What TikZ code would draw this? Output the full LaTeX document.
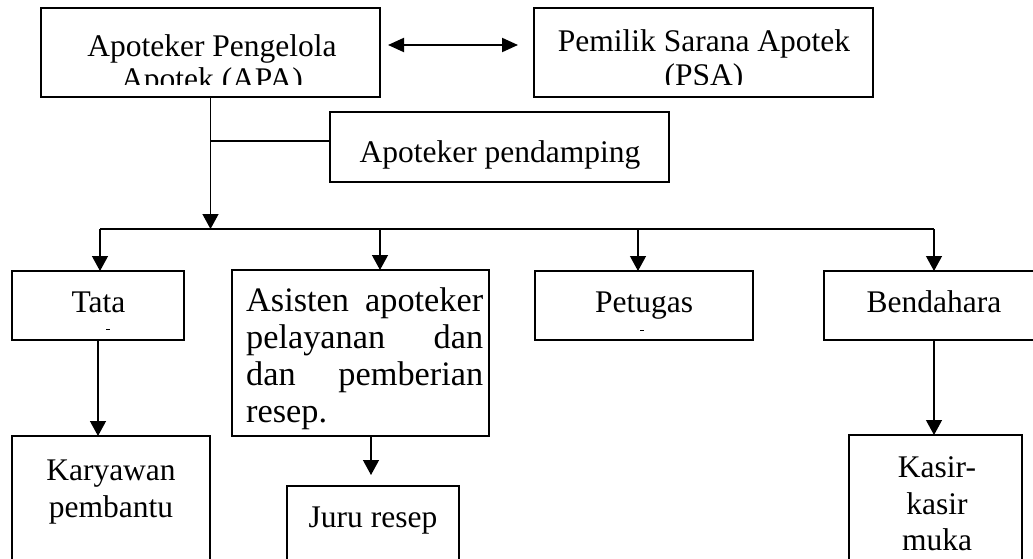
\documentclass[tikz,border=0pt]{standalone}
\usepackage{fontspec}
\setmainfont{Liberation Serif}
\usetikzlibrary{arrows.meta}
\begin{document}
\begin{tikzpicture}[x=1pt,y=-1pt,
  box/.style={draw=black,line width=2.4pt,inner sep=0pt,outer sep=0pt},
  lbl/.style={anchor=base,inner sep=0pt,font=\fontsize{31.5}{37}\selectfont},
  lblw/.style={anchor=base west,inner sep=0pt,font=\fontsize{34.3}{37}\selectfont},
  conn/.style={line width=1.3pt},
  arr/.style={conn,-{Triangle[length=15pt,width=16pt]}},
  darr/.style={line width=2pt,{Triangle[length=16pt,width=14pt]}-{Triangle[length=16pt,width=14pt]}}]
\useasboundingbox (0,0) rectangle (1033,559);
\clip (0,0) rectangle (1033,559);
% boxes
\node[box,minimum width=339pt,minimum height=89pt] (apa) at (210.5,52.5) {};
\node[box,minimum width=339pt,minimum height=89pt] (psa) at (703.5,52.5) {};
\node[box,minimum width=339pt,minimum height=70pt] (pend) at (499.5,147) {};
\node[box,minimum width=172pt,minimum height=69pt] (tata) at (98,305.5) {};
\node[box,minimum width=257pt,minimum height=166pt] (asis) at (360.5,353) {};
\node[box,minimum width=218pt,minimum height=69pt] (petu) at (644,305.5) {};
\node[box,minimum width=221pt,minimum height=69pt] (bend) at (934.5,305.5) {};
\node[box,minimum width=198pt,minimum height=144pt] (kary) at (111,508) {};
\node[box,minimum width=172pt,minimum height=94pt] (juru) at (373,533) {};
\node[box,minimum width=173pt,minimum height=145pt] (kasir) at (935.5,507.5) {};
% texts
\node[lbl] (tapa1) at (212,57) {Apoteker Pengelola};
\begin{scope}
  \clip (41,8) rectangle (380,85);
  \node[lbl] (tapa2) at (212,90) {Apotek (APA)};
\end{scope}
\node[lbl] (tpsa1) at (704,52) {Pemilik Sarana Apotek};
\begin{scope}
  \clip (534,8) rectangle (873,85);
  \node[lbl] (tpsa2) at (704,85.5) {(PSA)};
\end{scope}
\node[lbl] (tpend) at (500,162) {Apoteker pendamping};
\node[lbl] (ttata) at (98.5,312) {Tata};
\node[lbl] (tpetu) at (644,312) {Petugas};
\node[lbl] (tbend) at (934,312) {Bendahara};
\node[lblw] (tas1) at (246,311) {\makebox[237pt][s]{Asisten apoteker}};
\node[lblw] (tas2) at (246,348) {\makebox[237pt][s]{pelayanan dan}};
\node[lblw] (tas3) at (246,385) {\makebox[237pt][s]{dan pemberian}};
\node[lblw] (tas4) at (246,422) {resep.};
\node[lbl] (tkar1) at (111,480) {Karyawan};
\node[lbl] (tkar2) at (111,517) {pembantu};
\node[lbl] (tjuru) at (373,527) {Juru resep};
\node[lbl] (tkas1) at (937,477) {Kasir-};
\node[lbl] (tkas2) at (937,514) {kasir};
\node[lbl] (tkas3) at (937,550) {muka};
% tiny clipped marks
\fill (106,328.5) rectangle (110,330);
\fill (640,329.5) rectangle (644,331);
% connectors
\draw[darr,shorten <=8pt,shorten >=16pt] ([yshift=7.5pt]apa.east) -- ([yshift=7.5pt]psa.west);
\coordinate (busA) at (210.5,229);
\draw[arr] (apa.south) -- (busA);
\coordinate (br) at (210.5,141);
\draw[conn] (br) -- (br -| pend.west);
\coordinate (b1) at (100,229);
\coordinate (b2) at (380,229);
\coordinate (b3) at (638,229);
\coordinate (b4) at (934,229);
\draw[conn] (b1) -- (b4);
\draw[arr] (b1) -- (b1 |- tata.north);
\draw[arr] (b2) -- (b2 |- asis.north);
\draw[arr] (b3) -- (b3 |- petu.north);
\draw[arr] (b4) -- (b4 |- bend.north);
\draw[arr] (tata.south) -- (tata.south |- kary.north);
\draw[arr,shorten >=11pt] (asis.south -| 371,0) -- (juru.north -| 371,0);
\draw[arr] (bend.south -| b4) -- (kasir.north -| b4);
\end{tikzpicture}
\end{document}
